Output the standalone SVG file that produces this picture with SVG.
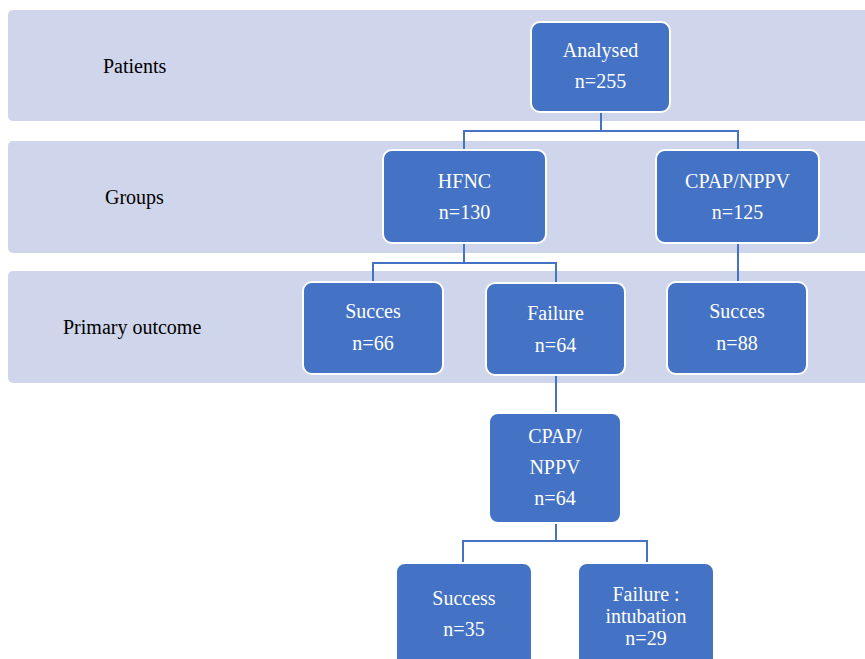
<svg xmlns="http://www.w3.org/2000/svg" width="865" height="659" viewBox="0 0 865 659">
<style>
.band{fill:#cfd5ea;}
.box{fill:#4472c4;stroke:#ffffff;stroke-width:2;}
.t{font-family:"Liberation Serif","Times New Roman",serif;font-size:20px;fill:#ffffff;text-anchor:middle;}
.lbl{font-family:"Liberation Serif","Times New Roman",serif;font-size:20px;fill:#000000;}
.c{fill:none;stroke:#4472c4;stroke-width:2;}
</style>
<rect width="865" height="659" fill="#ffffff"/>
<g id="bands">
<rect class="band" x="8" y="10" width="870" height="111" rx="5"/>
<rect class="band" x="8" y="141" width="870" height="112" rx="5"/>
<rect class="band" x="8" y="271" width="870" height="112" rx="5"/>
</g>
<g id="labels">
<text class="lbl" x="103" y="73">Patients</text>
<text class="lbl" x="105" y="204">Groups</text>
<text class="lbl" x="63" y="334">Primary outcome</text>
</g>
<g id="connectors">
<path class="c" d="M601 112V131M464 150V131H738V150"/>
<path class="c" d="M464 243V263M373 282V263H556V283"/>
<path class="c" d="M738 243V282"/>
<path class="c" d="M556 375V413"/>
<path class="c" d="M556 523V541M463 563V541H647V563"/>
</g>
<g id="analysed">
<rect class="box" x="531" y="22" width="139" height="90" rx="9"/>
<text class="t" x="600.5" y="57">Analysed</text>
<text class="t" x="600.5" y="88">n=255</text>
</g>
<g id="hfnc">
<rect class="box" x="383" y="150" width="163" height="93" rx="9"/>
<text class="t" x="464.5" y="188">HFNC</text>
<text class="t" x="464.5" y="219">n=130</text>
</g>
<g id="cpap-nppv">
<rect class="box" x="656" y="150" width="163" height="93" rx="9"/>
<text class="t" x="737.5" y="188">CPAP/NPPV</text>
<text class="t" x="737.5" y="219">n=125</text>
</g>
<g id="succes-hfnc">
<rect class="box" x="303" y="282" width="140" height="92" rx="9"/>
<text class="t" x="373" y="318">Succes</text>
<text class="t" x="373" y="350">n=66</text>
</g>
<g id="failure-hfnc">
<rect class="box" x="486" y="283" width="139" height="92" rx="9"/>
<text class="t" x="555.5" y="320">Failure</text>
<text class="t" x="555.5" y="352">n=64</text>
</g>
<g id="succes-cpap">
<rect class="box" x="667" y="282" width="140" height="92" rx="9"/>
<text class="t" x="737" y="318">Succes</text>
<text class="t" x="737" y="350">n=88</text>
</g>
<g id="cpap-nppv-rescue">
<rect class="box" x="489" y="413" width="132" height="110" rx="9"/>
<text class="t" x="555" y="443">CPAP/</text>
<text class="t" x="555" y="474">NPPV</text>
<text class="t" x="555" y="505">n=64</text>
</g>
<g id="success-final">
<rect class="box" x="396" y="563" width="136" height="110" rx="9"/>
<text class="t" x="464" y="605">Success</text>
<text class="t" x="464" y="636">n=35</text>
</g>
<g id="failure-intubation">
<rect class="box" x="578" y="563" width="136" height="110" rx="9"/>
<text class="t" x="646" y="601">Failure :</text>
<text class="t" x="646" y="623">intubation</text>
<text class="t" x="646" y="645">n=29</text>
</g>
</svg>
